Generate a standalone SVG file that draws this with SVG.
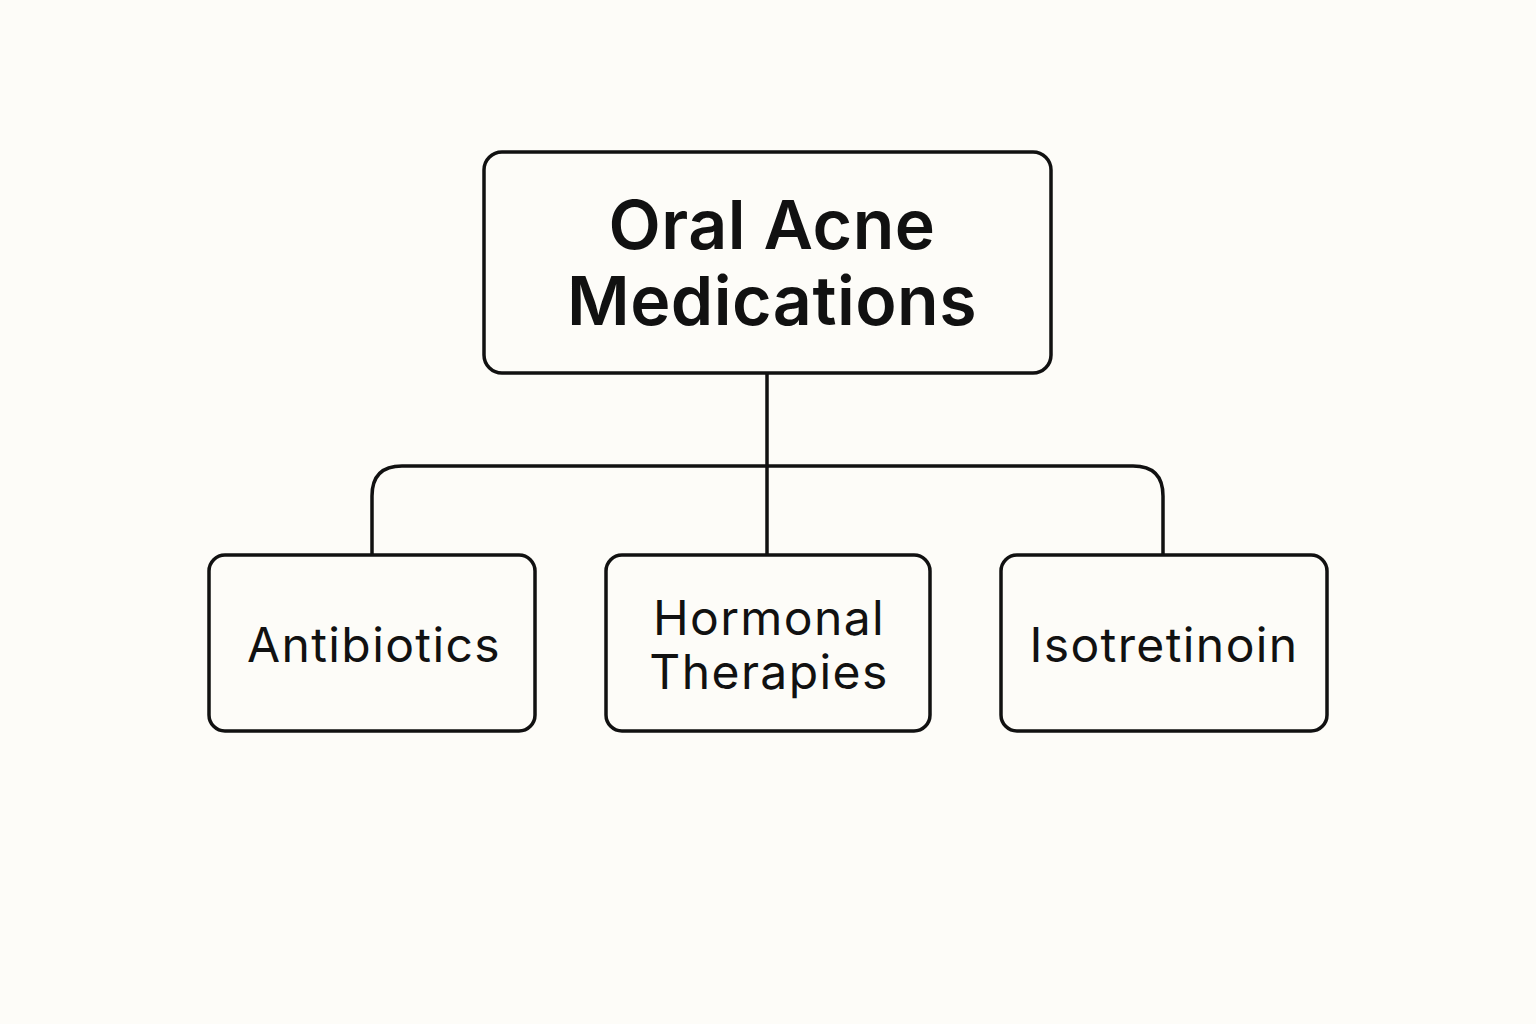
<svg xmlns="http://www.w3.org/2000/svg" width="1536" height="1024" viewBox="0 0 1536 1024">
<style>
.box{fill:#FDFCF8;stroke:#111;stroke-width:3.5}
.line{fill:none;stroke:#111;stroke-width:3.5}
.title{font-family:Inter,"Liberation Sans",sans-serif;font-weight:600;font-size:68px;letter-spacing:0.5px;fill:#111;text-anchor:middle}
.label{font-family:Inter,"Liberation Sans",sans-serif;font-weight:400;font-size:48px;letter-spacing:1.4px;fill:#111;text-anchor:middle}
</style>
<rect width="1536" height="1024" fill="#FDFCF8"/>
<g id="connectors">
<path class="line" d="M767 373 V555"/>
<path class="line" d="M372 555 V496 Q372 466 402 466 H1133 Q1163 466 1163 496 V555"/>
</g>
<g id="root">
<rect class="box" x="484" y="152" width="567" height="221" rx="18"/>
<text class="title" x="772" y="249">Oral Acne</text>
<text class="title" x="772" y="325">Medications</text>
</g>
<g id="antibiotics">
<rect class="box" x="209" y="555" width="326" height="176" rx="16"/>
<text class="label" x="374" y="662">Antibiotics</text>
</g>
<g id="hormonal">
<rect class="box" x="606" y="555" width="324" height="176" rx="16"/>
<text class="label" x="769" y="635">Hormonal</text>
<text class="label" x="769" y="689">Therapies</text>
</g>
<g id="isotretinoin">
<rect class="box" x="1001" y="555" width="326" height="176" rx="16"/>
<text class="label" x="1164" y="662">Isotretinoin</text>
</g>
</svg>
